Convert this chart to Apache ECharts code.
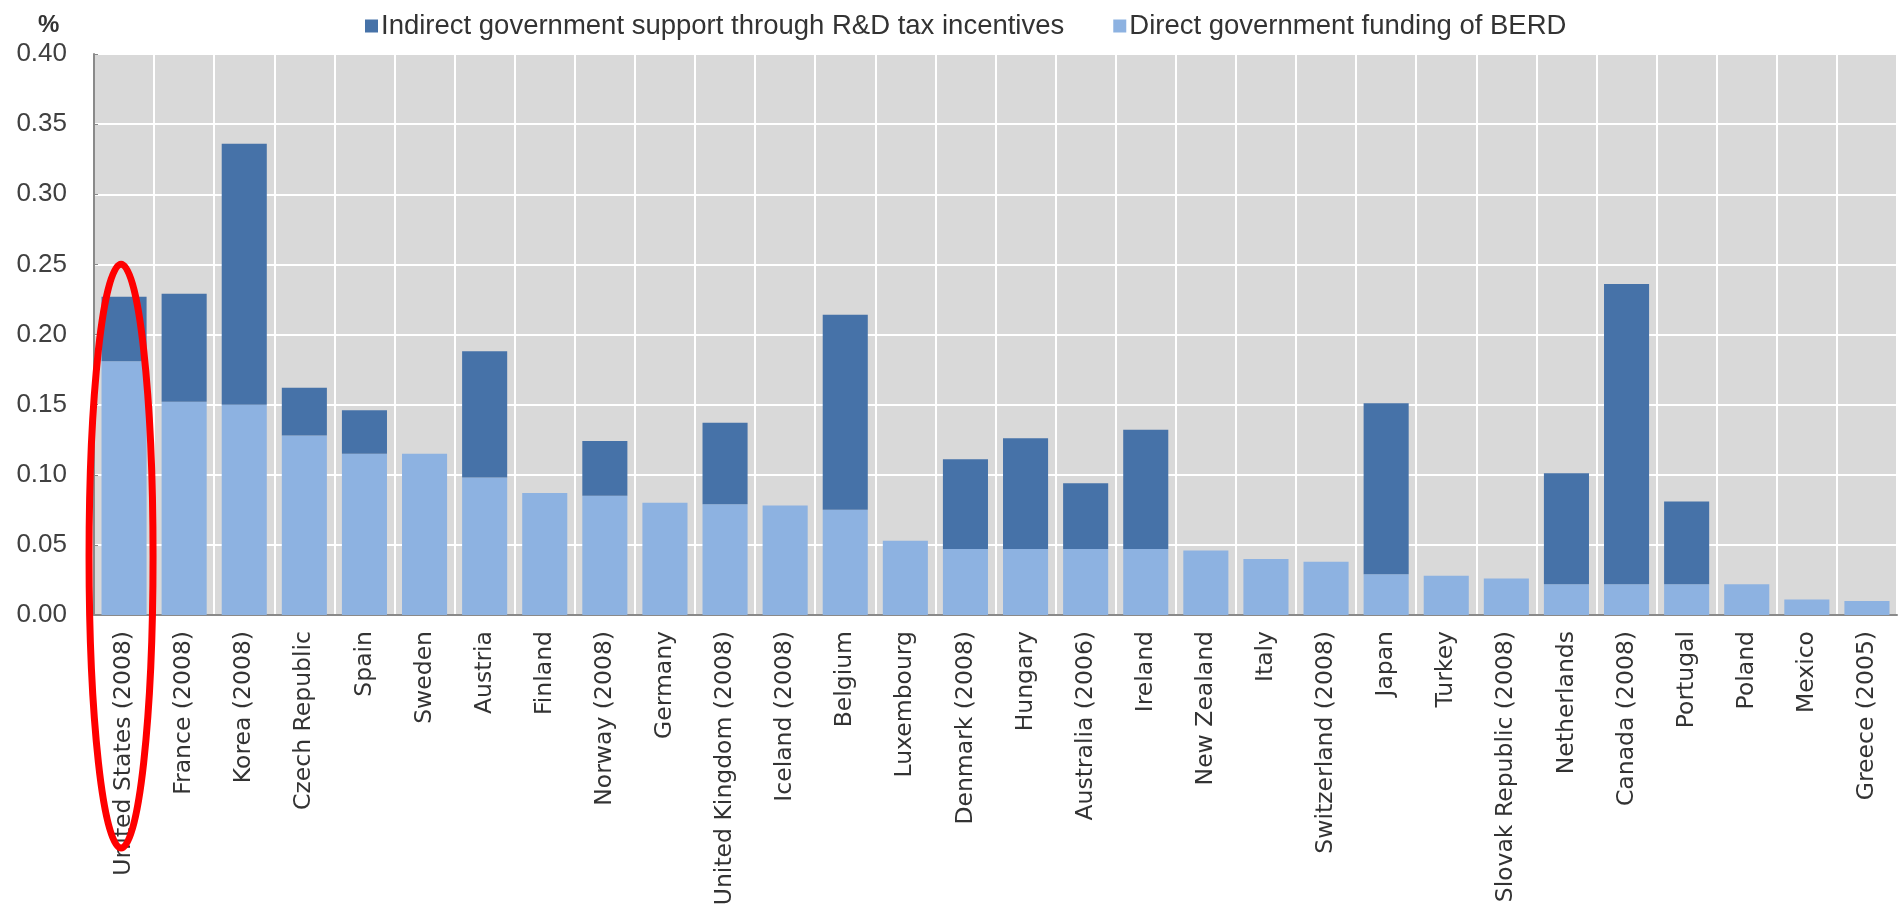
<!DOCTYPE html>
<html>
<head>
<meta charset="utf-8">
<script src="https://cdn.jsdelivr.net/npm/echarts@6/dist/echarts.min.js"></script>
<style>
  html, body { margin: 0; padding: 0; background: #fff; }
  #chart { width: 1899px; height: 915px; }
</style>
</head>
<body>
<div id="chart"></div>
<script>
const categories = [
  "United States (2008)", "France (2008)", "Korea (2008)", "Czech Republic", "Spain",
  "Sweden", "Austria", "Finland", "Norway (2008)", "Germany",
  "United Kingdom (2008)", "Iceland (2008)", "Belgium", "Luxembourg", "Denmark (2008)",
  "Hungary", "Australia (2006)", "Ireland", "New Zealand", "Italy",
  "Switzerland (2008)", "Japan", "Turkey", "Slovak Republic (2008)", "Netherlands",
  "Canada (2008)", "Portugal", "Poland", "Mexico", "Greece (2005)"
];

// direct government funding of BERD (% of GDP)
const directFunding = [
  0.181, 0.152, 0.150, 0.128, 0.115, 0.115, 0.098, 0.087, 0.085, 0.080,
  0.079, 0.078, 0.075, 0.053, 0.047, 0.047, 0.047, 0.047, 0.046, 0.040,
  0.038, 0.029, 0.028, 0.026, 0.022, 0.022, 0.022, 0.022, 0.011, 0.010
];

// indirect support through R&D tax incentives
const taxIncentives = [
  0.046, 0.077, 0.186, 0.034, 0.031, 0, 0.090, 0, 0.039, 0,
  0.058, 0, 0.139, 0, 0.064, 0.079, 0.047, 0.085, 0, 0,
  0, 0.122, 0, 0, 0.079, 0.214, 0.059, 0, 0, 0
];

const seriesNames = [
  "Indirect government support through R&D tax incentives",
  "Direct government funding of BERD"
];

const chart = echarts.init(document.getElementById("chart"));

chart.setOption({
  animation: false,
  backgroundColor: "#fff",
  title: {
    text: "%",
    left: 33,
    top: 8,
    textStyle: { fontFamily: "Liberation Sans", fontSize: 24, fontWeight: "bold", color: "#333" }
  },
  legend: {
    data: seriesNames,
    left: 360,
    top: 7,
    icon: "rect",
    itemWidth: 13,
    itemHeight: 13,
    itemGap: 49,
    textStyle: { fontFamily: "Liberation Sans", fontSize: 27.5, color: "#333", padding: [0, 0, 0, -2] }
  },
  grid: {
    left: 94,
    right: 2,
    top: 54,
    bottom: 300,
    show: true,
    backgroundColor: "#d9d9d9",
    borderWidth: 0
  },
  xAxis: {
    type: "category",
    data: categories,
    axisLine: { lineStyle: { color: "#8a8a8a", width: 2 } },
    axisTick: { show: false },
    splitLine: { show: true, interval: 0, lineStyle: { color: "#ffffff", width: 2 } },
    axisLabel: {
      interval: 0,
      rotate: 90,
      margin: 16,
      fontFamily: "DejaVu Sans",
      fontSize: 23.5,
      color: "#333"
    }
  },
  yAxis: {
    type: "value",
    min: 0,
    max: 0.4,
    interval: 0.05,
    axisLine: { show: true, lineStyle: { color: "#8a8a8a", width: 2 } },
    axisTick: { show: true, inside: true, length: 4, lineStyle: { color: "#8a8a8a" } },
    splitLine: { lineStyle: { color: "#ffffff", width: 2 } },
    axisLabel: {
      margin: 27,
      fontFamily: "Liberation Sans",
      fontSize: 26,
      color: "#404040",
      formatter: v => v.toFixed(2)
    }
  },
  series: [
    {
      name: seriesNames[1],
      type: "bar",
      stack: "support",
      barWidth: "75%",
      data: directFunding,
      itemStyle: { color: "#8db2e1" }
    },
    {
      name: seriesNames[0],
      type: "bar",
      stack: "support",
      barWidth: "75%",
      data: taxIncentives,
      itemStyle: { color: "#4672a8" }
    }
  ]
});

// red highlight ellipse around the first country
const cx = chart.convertToPixel({ xAxisIndex: 0 }, categories[0]) - 3;
const topY = chart.convertToPixel({ yAxisIndex: 0 }, 0.25);
const bottomY = 848;
chart.setOption({
  graphic: [{
    type: "ellipse",
    z: 100,
    shape: { cx: cx, cy: (topY + bottomY) / 2, rx: 32, ry: (bottomY - topY) / 2 },
    style: { fill: "none", stroke: "#ff0000", lineWidth: 7 }
  }]
});

window.addEventListener("resize", () => chart.resize());
</script>
</body>
</html>
